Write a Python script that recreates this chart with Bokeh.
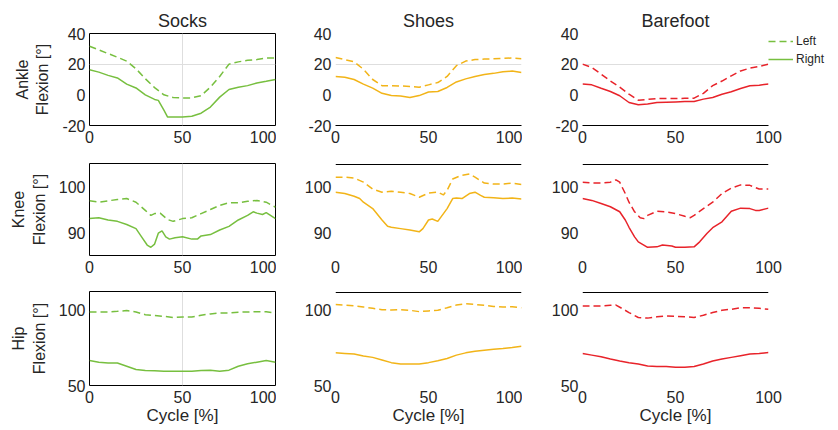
from bokeh.plotting import figure
from bokeh.layouts import column, row
from bokeh.models import Range1d, Legend, LegendItem, Span
from bokeh.embed import file_html
from bokeh.resources import INLINE

FONT = "Liberation Sans"
TXT = "#262626"
GREEN = "#77bf3f"
ORANGE = "#f2b418"
RED = "#e8232a"
GRID = "#dedede"

CONDITIONS = ["Socks", "Shoes", "Barefoot"]
COND_COLORS = [GREEN, ORANGE, RED]
JOINTS = ["Ankle", "Knee", "Hip"]
X_TICKS = [0, 50, 100]
ANKLE_TICKS = [-20, 0, 20, 40]
KNEE_TICKS = [90, 100]
HIP_TICKS = [50, 100]
ANKLE_RANGE = [-20, 40]
KNEE_RANGE = [85, 105.2]
HIP_RANGE = [50, 112.5]
X_LABEL = "Cycle [%]"
LEGEND_LABELS = ["Left", "Right"]

X5 = [0, 5, 10, 15, 20, 25, 30, 35, 40, 45, 50, 55, 60, 65, 70, 75, 80, 85, 90, 95, 100]

# ---- Ankle ----
socks_ankle_left_x = X5
socks_ankle_left = [31.7, 29.3, 26.9, 24.5, 22, 17, 10.5, 4.7, 0, -1.8, -2, -2, -0.5, 5, 12, 20, 21.5, 22.5, 23, 24, 24]
socks_ankle_right_x = [0, 5, 10, 15, 20, 25, 30, 35, 37, 40, 42, 45, 50, 55, 60, 65, 70, 75, 80, 85, 90, 95, 100]
socks_ankle_right = [16.4, 14.8, 12.7, 11, 7, 4.5, 0, -3, -3.6, -10, -14.5, -14.5, -14.5, -14, -12, -8, -1.5, 3.5, 5, 6, 7.7, 8.8, 10]
shoes_ankle_left_x = X5
shoes_ankle_left = [24.4, 23, 21.5, 16.7, 10, 6, 6, 5.8, 5.5, 5, 6.5, 8, 12, 19, 22, 23, 23.3, 23.5, 23.8, 24, 23.5]
shoes_ankle_right_x = X5
shoes_ankle_right = [12, 11.5, 10, 7, 4.4, 1, -0.5, -0.7, -1.8, -0.5, 1.8, 2.2, 4.8, 8.4, 10.4, 12, 13.2, 14, 15, 15.5, 14.5]
bare_ankle_left_x = X5
bare_ankle_left = [20, 17.8, 13.5, 9, 5, 0.4, -3.5, -3, -2.4, -2.4, -2.4, -2.3, -2.2, 1, 6, 9, 12.4, 15.6, 17.4, 18.5, 20]
bare_ankle_right_x = X5
bare_ankle_right = [7, 6.5, 4.3, 2.2, -0.6, -5, -6.5, -6, -5, -4.8, -4.6, -4.4, -4.3, -2.8, -1.7, 0.4, 2, 4.1, 5.9, 6.3, 7]

# ---- Knee ----
socks_knee_left_x = [0, 5, 10, 15, 20, 25, 30, 33, 35, 38, 42, 45, 50, 55, 60, 65, 70, 75, 80, 85, 90, 95, 100]
socks_knee_left = [97, 96.7, 97, 97.3, 97.5, 96.7, 94.9, 93.8, 94.2, 94.3, 92.9, 92.5, 93.1, 93.3, 94.2, 95.1, 96, 96.6, 96.6, 96.9, 97.1, 96.7, 95.6]
socks_knee_right_x = [0, 5, 10, 15, 20, 25, 28, 31, 33, 35, 37, 39, 41, 43, 46, 50, 55, 58, 60, 65, 70, 75, 80, 85, 88, 90, 93, 95, 100]
socks_knee_right = [93.1, 93.3, 92.8, 92.5, 91.8, 90.9, 89.1, 87.3, 86.8, 87.5, 89.9, 90.4, 89.1, 88.6, 88.9, 89.1, 88.6, 88.6, 89.3, 89.6, 90.6, 91.4, 92.8, 93.8, 94.6, 94.3, 94, 94.4, 93.1]
shoes_knee_left_x = [0, 5, 10, 15, 20, 25, 30, 35, 40, 45, 50, 55, 58, 60, 63, 67, 72, 75, 80, 85, 90, 95, 100]
shoes_knee_left = [102.2, 102.2, 102, 101.1, 99.6, 98.9, 99.1, 98.9, 98.6, 97.8, 98.7, 98.9, 98.3, 99.3, 101.8, 102.5, 102.9, 102.2, 100.9, 100.7, 100.7, 100.9, 100.6]
shoes_knee_right_x = [0, 5, 10, 13, 15, 20, 25, 28, 30, 35, 40, 45, 47, 50, 52, 55, 60, 63, 65, 68, 72, 75, 78, 80, 85, 90, 95, 100]
shoes_knee_right = [98.9, 98.6, 98, 97.5, 96.7, 95.3, 92.8, 91.4, 91.2, 90.9, 90.6, 90.2, 90.9, 92.8, 93, 92.5, 95.3, 97.5, 97.6, 97.5, 98.6, 98.9, 98.2, 97.8, 97.7, 97.5, 97.6, 97.4]
bare_knee_left_x = [0, 5, 10, 15, 18, 20, 23, 25, 28, 31, 33, 35, 40, 45, 50, 55, 58, 60, 65, 70, 75, 80, 85, 90, 95, 100]
bare_knee_left = [101.1, 100.9, 100.9, 101.1, 101.6, 101.1, 98.6, 96.7, 94.6, 93.3, 93.1, 93.8, 94.7, 94.6, 94.2, 93.6, 93.3, 93.8, 95.3, 96.7, 98.6, 99.8, 100.5, 100.4, 99.6, 99.6]
bare_knee_right_x = [0, 5, 10, 15, 20, 23, 25, 28, 30, 35, 40, 43, 48, 50, 55, 60, 63, 67, 70, 75, 80, 85, 90, 93, 95, 100]
bare_knee_right = [97.5, 97.1, 96.4, 95.7, 94.6, 92.8, 91.2, 89.1, 88, 86.8, 86.9, 87.3, 87.1, 86.8, 86.8, 86.9, 88, 89.9, 91.1, 92.4, 94.7, 95.4, 95.3, 94.9, 94.9, 95.4]

# ---- Hip ----
socks_hip_left_x = X5
socks_hip_left = [98.9, 98.9, 98.9, 99.3, 99.8, 98.9, 97.1, 96.5, 96, 95.2, 95.6, 95.6, 96.7, 97.6, 98.2, 98.2, 98.7, 98.9, 99.1, 99.1, 98.2]
socks_hip_right_x = X5
socks_hip_right = [66.6, 65.5, 65, 65, 62.8, 60.6, 60, 59.8, 59.5, 59.5, 59.5, 59.5, 60, 60.2, 59.5, 60.2, 62.8, 64.4, 65.5, 66.6, 65.5]
shoes_hip_left_x = X5
shoes_hip_left = [103.9, 103.5, 103, 102.2, 101.3, 100.4, 100.2, 100.4, 100, 99.1, 99.6, 100, 101.7, 103.5, 104.3, 103.9, 103.3, 102.6, 102.2, 102.4, 101.7]
shoes_hip_right_x = X5
shoes_hip_right = [71.7, 71.3, 70.9, 69.6, 68.7, 67, 65.2, 64.3, 64.3, 64.3, 65.2, 66.5, 68, 70.2, 71.7, 72.8, 73.5, 74.1, 74.6, 75.2, 76.1]
bare_hip_left_x = [0, 5, 10, 15, 18, 22, 25, 30, 35, 40, 45, 50, 55, 60, 65, 70, 75, 80, 85, 90, 95, 100]
bare_hip_left = [102.8, 102.8, 102.8, 103.3, 103.5, 100.7, 98.5, 95.2, 94.8, 95.7, 96.3, 95.9, 95.7, 95.2, 96.7, 98.5, 100, 100.7, 101.7, 101.7, 101.3, 100.7]
bare_hip_right_x = X5
bare_hip_right = [71.3, 70.2, 69.1, 67.6, 66.3, 65.2, 64.3, 63, 62.6, 62.6, 62.2, 62.2, 62.6, 64.3, 66.3, 67.6, 68.7, 69.8, 70.9, 71.3, 72]

SERIES = {
    (0, 0): (socks_ankle_left_x, socks_ankle_left, socks_ankle_right_x, socks_ankle_right),
    (0, 1): (shoes_ankle_left_x, shoes_ankle_left, shoes_ankle_right_x, shoes_ankle_right),
    (0, 2): (bare_ankle_left_x, bare_ankle_left, bare_ankle_right_x, bare_ankle_right),
    (1, 0): (socks_knee_left_x, socks_knee_left, socks_knee_right_x, socks_knee_right),
    (1, 1): (shoes_knee_left_x, shoes_knee_left, shoes_knee_right_x, shoes_knee_right),
    (1, 2): (bare_knee_left_x, bare_knee_left, bare_knee_right_x, bare_knee_right),
    (2, 0): (socks_hip_left_x, socks_hip_left, socks_hip_right_x, socks_hip_right),
    (2, 1): (shoes_hip_left_x, shoes_hip_left, shoes_hip_right_x, shoes_hip_right),
    (2, 2): (bare_hip_left_x, bare_hip_left, bare_hip_right_x, bare_hip_right),
}
Y_TICK_LIST = [ANKLE_TICKS, KNEE_TICKS, HIP_TICKS]
Y_RANGES = [ANKLE_RANGE, KNEE_RANGE, HIP_RANGE]

# layout (pixels)
FRAME_W = 186
FRAME_H = [92, 92, 94]
BORDER_L = [89, 59, 60]
BORDER_R = [1, 1, 70]
BORDER_T = [33, 1, 1]
BORDER_B = [37, 35, 45]
DASH = "7 4"

rows = []
for ri, joint in enumerate(JOINTS):
    figs = []
    for ci, cond in enumerate(CONDITIONS):
        yr = Y_RANGES[ri]
        p = figure(frame_width=FRAME_W, frame_height=FRAME_H[ri],
                   min_border_left=BORDER_L[ci], min_border_right=BORDER_R[ci],
                   min_border_top=BORDER_T[ri], min_border_bottom=BORDER_B[ri],
                   x_range=Range1d(0, 100), y_range=Range1d(yr[0], yr[1]),
                   output_backend="svg", toolbar_location=None,
                   title=cond if ri == 0 else None)
        p.background_fill_color = "white"
        p.border_fill_color = "white"
        if ri == 0:
            p.title.align = "center"
            p.title.text_font = FONT
            p.title.text_font_size = "18px"
            p.title.text_font_style = "normal"
            p.title.text_color = TXT
            p.title.standoff = 5
        for ax in (p.xaxis[0], p.yaxis[0]):
            ax.major_tick_in = 0
            ax.major_tick_out = 0
            ax.minor_tick_line_color = None
            ax.major_label_text_font = FONT
            ax.major_label_text_font_size = "16px"
            ax.major_label_text_color = TXT
            ax.axis_label_text_font = FONT
            ax.axis_label_text_font_style = "normal"
            ax.axis_label_text_color = TXT
            ax.axis_line_color = None
        p.xaxis.ticker = X_TICKS
        p.yaxis.ticker = Y_TICK_LIST[ri]
        p.yaxis.major_label_overrides = {t: str(t) for t in Y_TICK_LIST[ri]}
        p.xaxis.major_label_standoff = 5
        p.yaxis.major_label_standoff = 4
        if ri == 2:
            p.xaxis.axis_label = X_LABEL
            p.xaxis.axis_label_text_font_size = "17px"
            p.xaxis.axis_label_standoff = 0
        if ci == 0:
            p.yaxis.axis_label = joint + "\nFlexion [°]"
            p.yaxis.axis_label_text_font_size = "16px"
            p.yaxis.axis_label_standoff = 8
        p.xgrid.grid_line_color = None
        p.ygrid.grid_line_color = None
        if ci == 0:
            p.outline_line_color = "black"
            p.outline_line_width = 1
            p.xgrid.grid_line_color = GRID
            p.xgrid.ticker = [50]
        else:
            p.outline_line_color = None
            if ri == 0:
                p.xaxis.axis_line_color = "black"
            else:
                one_px = (yr[1] - yr[0]) / FRAME_H[ri]
                p.add_layout(Span(location=yr[1] - one_px, dimension="width",
                                  line_color="black", line_width=1))
        if ri == 0:
            p.ygrid.grid_line_color = GRID
            p.ygrid.ticker = [20]

        lx, ly, rx, ry = SERIES[(ri, ci)]
        color = COND_COLORS[ci]
        p.line(lx, ly, line_color=color, line_width=1.5, line_dash=DASH)
        p.line(rx, ry, line_color=color, line_width=1.5)

        if ri == 0 and ci == 2:
            nan = float("nan")
            r1 = p.line(x=[nan], y=[nan], line_color=GREEN, line_width=1.5, line_dash=DASH)
            r2 = p.line(x=[nan], y=[nan], line_color=GREEN, line_width=1.5)
            leg = Legend(items=[LegendItem(label=LEGEND_LABELS[0], renderers=[r1]),
                                LegendItem(label=LEGEND_LABELS[1], renderers=[r2])],
                         location="top_left", orientation="vertical",
                         label_text_font=FONT, label_text_font_size="12px",
                         label_text_color=TXT, glyph_width=25, glyph_height=16,
                         label_height=16, label_standoff=3, spacing=2,
                         padding=5, margin=0,
                         background_fill_alpha=0, border_line_color=None)
            p.add_layout(leg, "right")
        figs.append(p)
    rows.append(row(*figs, spacing=0))

layout = column(*rows, spacing=0)
open("out.html", "w").write(file_html(layout, INLINE))
